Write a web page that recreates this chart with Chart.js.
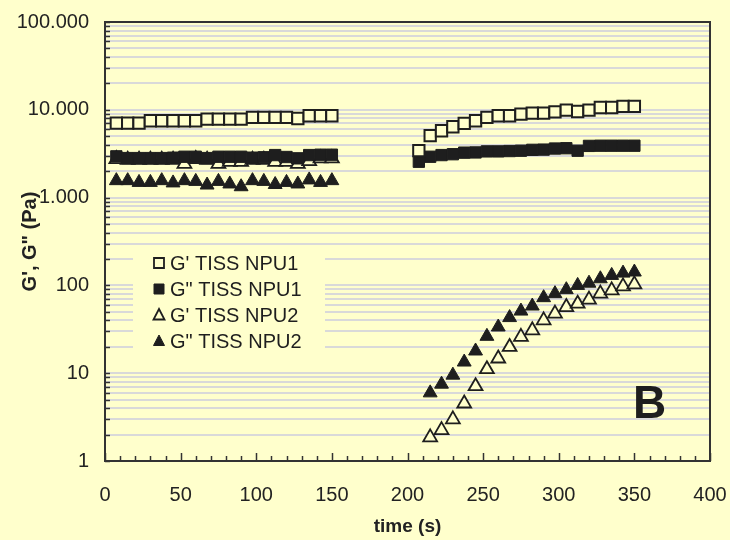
<!DOCTYPE html>
<html>
<head>
<meta charset="utf-8">
<script src="https://cdn.jsdelivr.net/npm/chart.js@4.4.1/dist/chart.umd.min.js"></script>
<style>
  html, body { margin: 0; padding: 0; background: #ffffcc; }
  #wrap { width: 730px; height: 540px; }
</style>
</head>
<body>
<div id="wrap"><canvas id="chart" width="730" height="540"></canvas></div>
<script>
// time points (s) of the two measurement runs
const timeA = [7.5, 15, 22.5, 30, 37.5, 45, 52.5, 60, 67.5, 75, 82.5, 90, 97.5, 105, 112.5, 120, 127.5, 135, 142.5, 150];
const timeB = [207.5, 215, 222.5, 230, 237.5, 245, 252.5, 260, 267.5, 275, 282.5, 290, 297.5, 305, 312.5, 320, 327.5, 335, 342.5, 350];

// moduli (Pa)
const gp1A  = [7060, 7060, 7060, 7500, 7500, 7500, 7500, 7500, 7840, 7840, 7840, 7840, 8180, 8180, 8180, 8180, 7960, 8550, 8550, 8550];
const gp1B  = [3420, 5070, 5770, 6410, 7000, 7500, 8180, 8550, 8550, 8930, 9170, 9170, 9490, 9910, 9570, 9910, 10620, 10620, 10920, 10920];
const gpp1A = [2950, 2820, 2820, 2820, 2820, 2850, 2920, 2920, 2820, 2920, 2920, 2920, 2850, 2880, 3050, 2900, 2800, 3050, 3080, 3080];
const gpp1B = [2560, 2920, 3050, 3120, 3250, 3270, 3360, 3360, 3390, 3420, 3500, 3520, 3620, 3650, 3420, 3880, 3900, 3900, 3900, 3900];
const gp2A  = [2750, 2700, 2700, 2700, 2700, 2700, 2420, 2750, 2700, 2420, 2550, 2550, 2700, 2700, 2550, 2550, 2420, 2600, 2800, 2800];
const gp2B  = [null, 1.86, 2.25, 2.98, 4.52, 7.11, 11.1, 14.7, 19.9, 25.9, 30.8, 40, 47.7, 56.7, 61.9, 68.8, 80.5, 87.7, 97.5, 102.6];
const gpp2A = [1560, 1560, 1490, 1490, 1560, 1470, 1560, 1530, 1390, 1530, 1430, 1330, 1560, 1530, 1410, 1490, 1430, 1590, 1490, 1560];
const gpp2B = [null, 5.97, 7.5, 9.5, 13.4, 17.9, 26.3, 33.6, 43, 51, 58.2, 72.5, 80.5, 89.4, 100, 106, 119, 130, 138, 142];

const seriesNames = ["G' TISS NPU1", 'G" TISS NPU1', "G' TISS NPU2", 'G" TISS NPU2'];
const yDecades = [1, 10, 100, 1000, 10000, 100000];
const yDecadeLabels = ['1', '10', '100', '1.000', '10.000', '100.000'];
const panelLetter = 'B';

const BG = '#ffffcc';
const INK = '#1e1e1e';
const FONT = "'Liberation Sans', Arial, sans-serif";

function toPoints(tA, vA, tB, vB) {
  const pts = [];
  tA.forEach((t, i) => { if (vA[i] != null) pts.push({ x: t, y: vA[i] }); });
  tB.forEach((t, i) => { if (vB[i] != null) pts.push({ x: t, y: vB[i] }); });
  return pts;
}

const styles = [
  { pointStyle: 'rect', fill: BG, bw: 2 },
  { pointStyle: 'rect', fill: INK, bw: 1 },
  { pointStyle: 'triangle', fill: BG, bw: 1.8 },
  { pointStyle: 'triangle', fill: INK, bw: 1 }
];
const values = [[gp1A, gp1B], [gpp1A, gpp1B], [gp2A, gp2B], [gpp2A, gpp2B]];

const datasets = seriesNames.map((name, i) => ({
  label: name,
  data: toPoints(timeA, values[i][0], timeB, values[i][1]),
  showLine: false,
  pointStyle: styles[i].pointStyle,
  pointRadius: 8,
  pointHoverRadius: 8,
  pointBorderWidth: styles[i].bw,
  pointBorderColor: INK,
  pointBackgroundColor: styles[i].fill
}));

// legend box drawn inside the plot, over the grid
const legendBox = {
  id: 'legendBox',
  beforeDatasetsDraw(chart) {
    const ctx = chart.ctx;
    ctx.save();
    ctx.fillStyle = BG;
    ctx.fillRect(133, 250, 192, 104);
    ctx.restore();
  },
  afterDraw(chart) {
    const ctx = chart.ctx;
    ctx.save();
    ctx.font = '20px ' + FONT;
    ctx.textBaseline = 'middle';
    chart.data.datasets.forEach((ds, i) => {
      const y = 263 + i * 26;
      const x = 159;
      ctx.lineWidth = ds.pointBorderWidth > 1 ? 1.8 : 1;
      ctx.strokeStyle = INK;
      ctx.fillStyle = ds.pointBackgroundColor;
      ctx.beginPath();
      if (ds.pointStyle === 'rect') {
        ctx.rect(x - 5, y - 5, 10, 10);
      } else {
        ctx.moveTo(x, y - 6);
        ctx.lineTo(x + 5.5, y + 4.5);
        ctx.lineTo(x - 5.5, y + 4.5);
        ctx.closePath();
      }
      ctx.fill();
      ctx.stroke();
      ctx.fillStyle = INK;
      ctx.fillText(ds.label, 170, y + 1);
    });
    ctx.restore();
  }
};

// plot frame, inward tick marks, panel letter
const frame = {
  id: 'frame',
  afterDraw(chart) {
    const { ctx, chartArea: a, scales } = chart;
    ctx.save();
    ctx.strokeStyle = '#333';
    ctx.lineWidth = 1.5;
    scales.y.ticks.forEach(t => {
      const y = Math.round(scales.y.getPixelForValue(t.value)) + 0.5;
      ctx.beginPath();
      ctx.moveTo(a.left, y);
      ctx.lineTo(a.left + 5, y);
      ctx.stroke();
    });
    for (let v = 0; v <= 400; v += 10) {
      const x = Math.round(scales.x.getPixelForValue(v)) + 0.5;
      const len = v % 50 === 0 ? 8 : 5;
      ctx.beginPath();
      ctx.moveTo(x, a.bottom);
      ctx.lineTo(x, a.bottom - len);
      ctx.stroke();
    }
    ctx.lineWidth = 2;
    ctx.strokeStyle = '#333';
    ctx.strokeRect(a.left, a.top, a.right - a.left, a.bottom - a.top);

    ctx.font = 'bold 46px ' + FONT;
    ctx.fillStyle = INK;
    ctx.textAlign = 'center';
    ctx.textBaseline = 'middle';
    ctx.fillText(panelLetter, scales.x.getPixelForValue(360), scales.y.getPixelForValue(4.3));
    ctx.restore();
  }
};

new Chart(document.getElementById('chart'), {
  type: 'scatter',
  data: { datasets },
  options: {
    responsive: false,
    animation: false,
    devicePixelRatio: 1,
    layout: { padding: { top: 22, right: 20, left: 0, bottom: 0 } },
    plugins: { legend: { display: false }, tooltip: { enabled: false } },
    scales: {
      x: {
        type: 'linear',
        min: 0,
        max: 400,
        afterFit(s) { s.height = 79; s.paddingLeft = 0; s.paddingRight = 0; },
        ticks: { stepSize: 50, color: '#222', font: { family: FONT, size: 20 }, padding: 14, maxRotation: 0 },
        grid: { display: false },
        border: { display: false },
        title: { display: true, text: 'time (s)', color: '#222', font: { family: FONT, size: 19, weight: 'bold' }, padding: { top: 0, bottom: 2 } }
      },
      y: {
        type: 'logarithmic',
        min: 1,
        max: 100000,
        afterFit(s) { s.width = 105; s.paddingTop = 0; s.paddingBottom = 0; },
        afterBuildTicks(s) {
          const ticks = [];
          yDecades.forEach((d, i) => {
            if (i === yDecades.length - 1) { ticks.push({ value: d }); return; }
            for (let m = 1; m < 10; m++) ticks.push({ value: d * m });
          });
          s.ticks = ticks;
        },
        ticks: {
          autoSkip: false,
          color: '#222',
          padding: 16,
          font: { family: FONT, size: 20 },
          callback(v) {
            const i = yDecades.indexOf(v);
            return i >= 0 ? yDecadeLabels[i] : '';
          }
        },
        grid: {
          drawTicks: false,
          lineWidth: 2,
          color(c) {
            const v = c.tick && c.tick.value;
            return (v === 1 || v === 100000) ? 'rgba(0,0,0,0)' : '#d9d9d9';
          }
        },
        border: { display: false },
        title: { display: true, text: 'G\', G" (Pa)', color: '#222', font: { family: FONT, size: 20, weight: 'bold' }, padding: { top: 18, bottom: 0 } }
      }
    }
  },
  plugins: [legendBox, frame]
});
</script>
</body>
</html>
